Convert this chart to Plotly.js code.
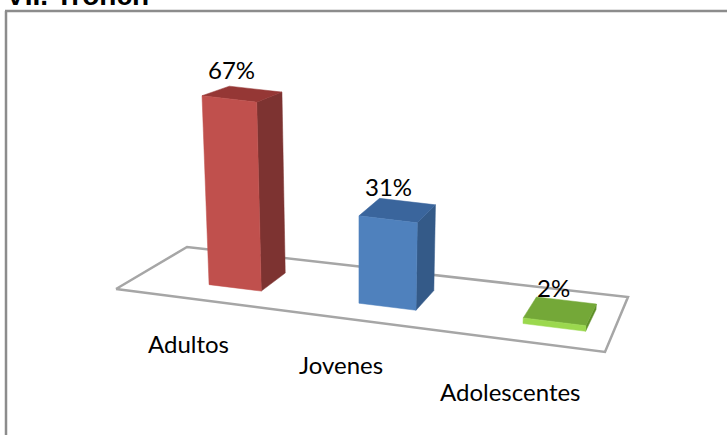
<!DOCTYPE html>
<html><head><meta charset="utf-8">
<script src="https://cdn.plot.ly/plotly-3.0.1.min.js"></script>
<style>html,body{margin:0;padding:0;background:#fff;overflow:hidden}#c{width:727px;height:435px}</style>
</head><body><div id="c"></div>
<script>
const categories = ["Adultos", "Jovenes", "Adolescentes"];
const values = [67, 31, 2];
const valueLabels = ["67%", "31%", "2%"];
const frontColors = ["#C0504D", "#4F81BD", "#9BD84E"];
const sideColors = ["#7D3331", "#345A88", "#5E8F28"];
const topColors = ["#953735", "#3A659C", "#74A838"];
const heading = "VII. Tronch";

// Floor plane corners in page pixels: front-left, back-left, back-right, front-right
const FL=[116,289], BL=[187,247], BR=[628,297], FR=[605,352];
function solveHomography(){
  const [x0,y0]=FL,[x1,y1]=FR,[x2,y2]=BR,[x3,y3]=BL;
  const dx1=x1-x2,dx2=x3-x2,sx=x0-x1+x2-x3,dy1=y1-y2,dy2=y3-y2,sy=y0-y1+y2-y3;
  const d=dx1*dy2-dx2*dy1;
  const g=(sx*dy2-dx2*sy)/d,h=(dx1*sy-sx*dy1)/d;
  return {a:x1-x0+g*x1,b:x3-x0+h*x3,c:x0,d:y1-y0+g*y1,e:y3-y0+h*y3,f:y0,g,h};
}
const H=solveHomography();
function floorPt(u,v){const w=H.g*u+H.h*v+1;return [(H.a*u+H.b*v+H.c)/w,(H.d*u+H.e*v+H.f)/w];}
const PX_PER_VALUE=2.82, VANISH_X=358, LEAN=0.00025, DEPTH_SHRINK=0.00056;
const BAR_W=0.119, BAR_D0=0.29, BAR_D1=0.69;
function pt(u,v,val){
  const p=floorPt(u,v);let h=val*PX_PER_VALUE;
  h=h*(1-DEPTH_SHRINK*(v-BAR_D0)*h);
  return [p[0]-(VANISH_X-p[0])*LEAN*h,p[1]-h];
}
const centers=[0.227,0.559,0.891];
function poly(corners,color,lineColor){
  return {type:"scatter",mode:"lines",fill:"toself",fillcolor:color,hoverinfo:"skip",showlegend:false,
    x:corners.map(c=>c[0]).concat(corners[0][0]),y:corners.map(c=>c[1]).concat(corners[0][1]),
    line:{color:lineColor||color,width:0.5}};
}
const traces=[];
traces.push({type:"scatter",mode:"lines",hoverinfo:"skip",showlegend:false,
  x:[FL,BL,BR,FR,FL].map(p=>p[0]),y:[FL,BL,BR,FR,FL].map(p=>p[1]),line:{color:"#A6A6A6",width:2.5}});
values.forEach((val,i)=>{
  const u0=centers[i]-BAR_W/2,u1=centers[i]+BAR_W/2;
  traces.push(poly([pt(u1,BAR_D0,0),pt(u1,BAR_D1,0),pt(u1,BAR_D1,val),pt(u1,BAR_D0,val)],sideColors[i]));
  traces.push(poly([pt(u0,BAR_D0,val),pt(u1,BAR_D0,val),pt(u1,BAR_D1,val),pt(u0,BAR_D1,val)],topColors[i]));
  traces.push(poly([pt(u0,BAR_D0,0),pt(u1,BAR_D0,0),pt(u1,BAR_D0,val),pt(u0,BAR_D0,val)],frontColors[i]));
});
const catLabelPos=[[188,343],[341,364],[510,391]];
const valLabelPos=[[231,69],[388,186],[553,287]];
const font={family:"Lato, Carlito, Calibri, sans-serif",size:24,color:"#000"};
const annotations=[];
categories.forEach((c,i)=>annotations.push({x:catLabelPos[i][0],y:catLabelPos[i][1],xref:"x",yref:"y",text:c,showarrow:false,font}));
valueLabels.forEach((t,i)=>annotations.push({x:valLabelPos[i][0],y:valLabelPos[i][1],xref:"x",yref:"y",text:t,showarrow:false,font}));
annotations.push({x:4,y:13,xref:"x",yref:"y",xanchor:"left",yanchor:"bottom",text:"<b>"+heading+"</b>",showarrow:false,
  font:{family:"Liberation Sans, Arial, sans-serif",size:28,color:"#000"}});
const layout={width:727,height:435,margin:{l:0,r:0,t:0,b:0,pad:0},paper_bgcolor:"#fff",plot_bgcolor:"#fff",
  xaxis:{range:[0,727],visible:false,fixedrange:true},yaxis:{range:[435,0],visible:false,fixedrange:true},
  shapes:[
    {type:"line",xref:"x",yref:"y",x0:6,y0:435,x1:6,y1:11,line:{color:"#8C8C8C",width:2.5},layer:"below"},
    {type:"line",xref:"x",yref:"y",x0:5,y0:11,x1:727,y1:11,line:{color:"#8C8C8C",width:2.5},layer:"below"}
  ],
  annotations};
Plotly.newPlot("c",traces,layout,{displayModeBar:false,staticPlot:true});
</script></body></html>
